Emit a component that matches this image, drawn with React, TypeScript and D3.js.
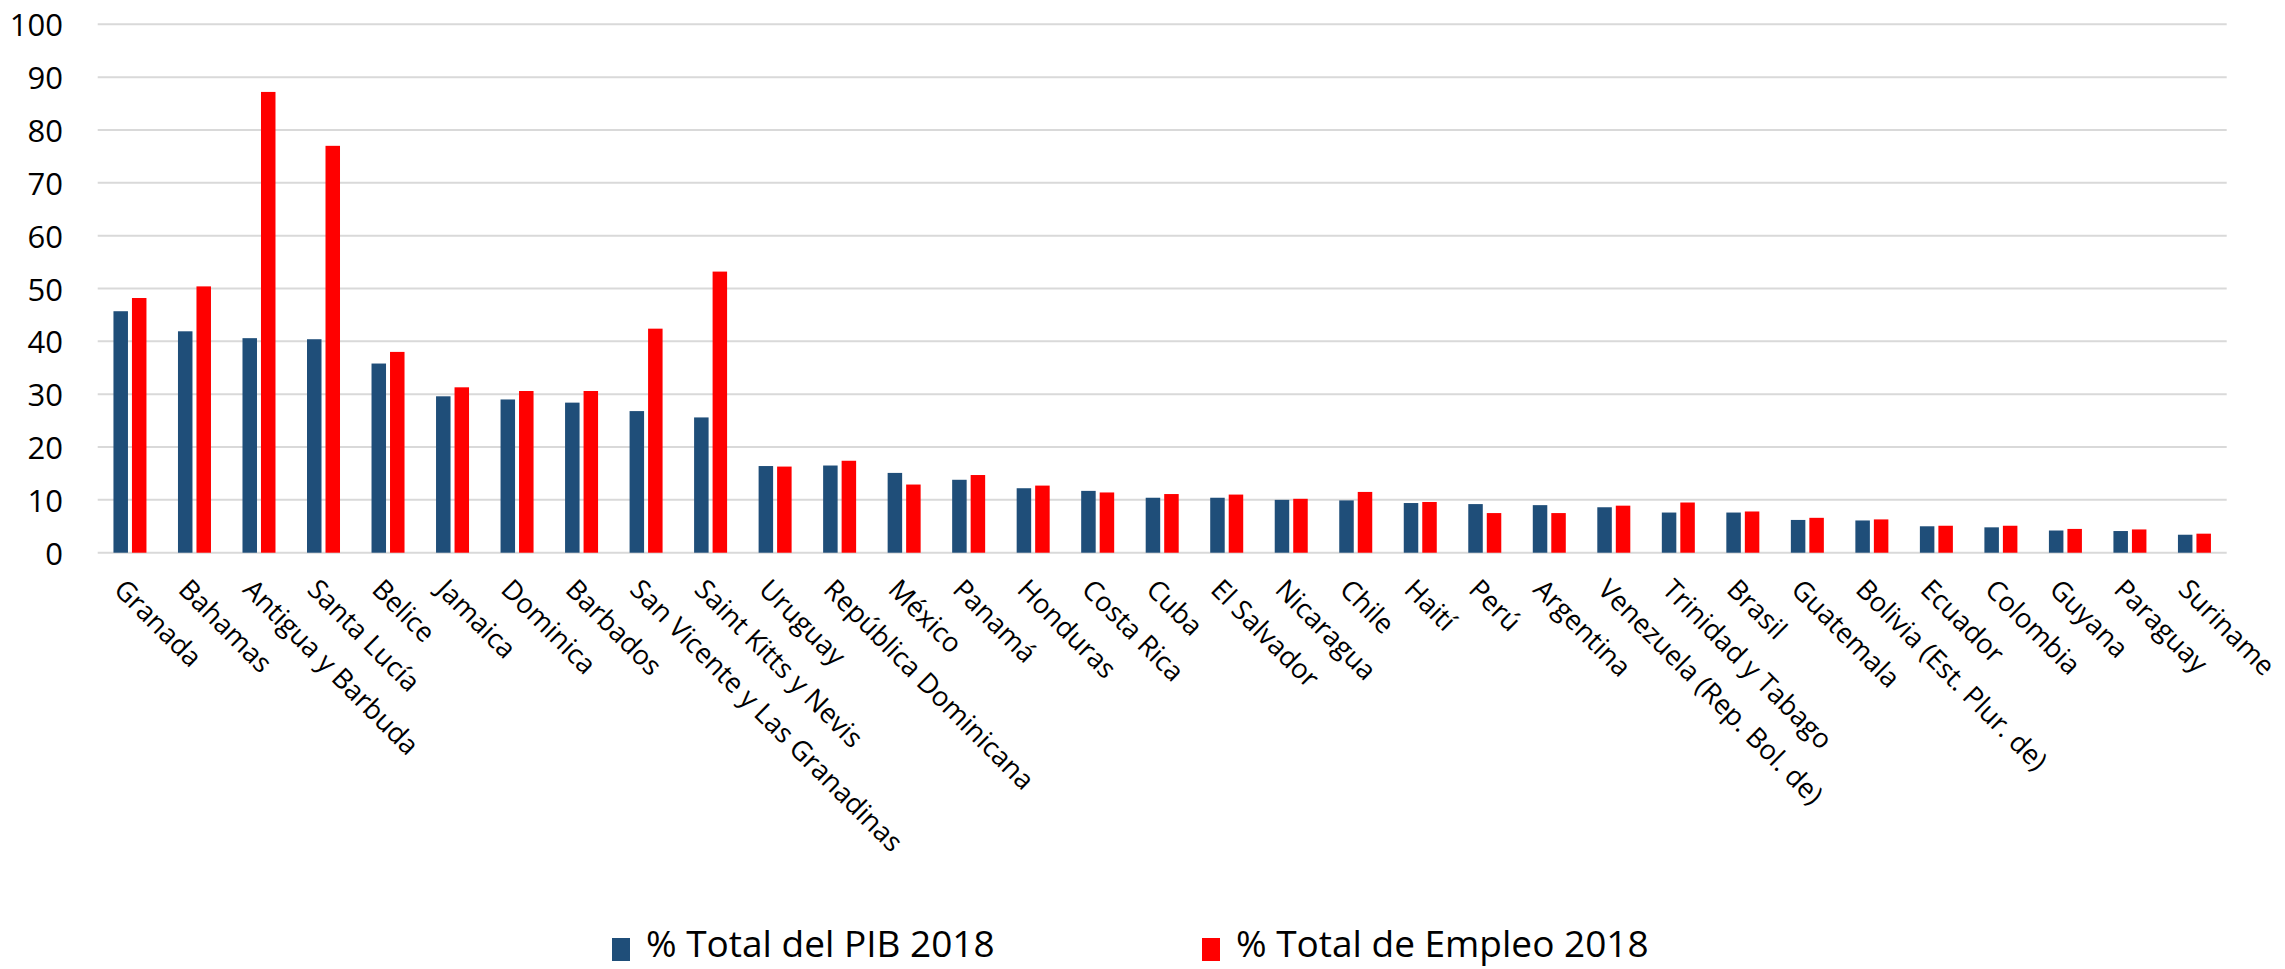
import React from "react";
import * as d3 from "d3";

const categories = [
  "Granada", "Bahamas", "Antigua y Barbuda", "Santa Lucía", "Belice", "Jamaica",
  "Dominica", "Barbados", "San Vicente y Las Granadinas", "Saint Kitts y Nevis",
  "Uruguay", "República Dominicana", "México", "Panamá", "Honduras", "Costa Rica",
  "Cuba", "El Salvador", "Nicaragua", "Chile", "Haití", "Perú", "Argentina",
  "Venezuela (Rep. Bol. de)", "Trinidad y Tabago", "Brasil", "Guatemala",
  "Bolivia (Est. Plur. de)", "Ecuador", "Colombia", "Guyana", "Paraguay", "Suriname",
];

const pib2018 = [
  45.7, 41.9, 40.6, 40.4, 35.8, 29.6, 29.0, 28.4, 26.8, 25.6,
  16.4, 16.5, 15.1, 13.8, 12.2, 11.7, 10.4, 10.4, 10.0, 9.9,
  9.4, 9.2, 9.0, 8.6, 7.6, 7.6, 6.2, 6.1, 5.0, 4.8, 4.2, 4.1, 3.4,
];

const empleo2018 = [
  48.2, 50.4, 87.2, 77.0, 38.0, 31.3, 30.6, 30.6, 42.4, 53.2,
  16.3, 17.4, 12.9, 14.7, 12.7, 11.4, 11.1, 11.0, 10.2, 11.5,
  9.6, 7.5, 7.5, 8.9, 9.5, 7.8, 6.6, 6.3, 5.1, 5.1, 4.5, 4.4, 3.6,
];

const yTicks = [0, 10, 20, 30, 40, 50, 60, 70, 80, 90, 100];

const seriesNames = ["% Total del PIB 2018", "% Total de Empleo 2018"];
const seriesColors = ["#1F4E79", "#FF0000"];

const W = 2285;
const H = 969;
const FONT = "'Open Sans', 'Noto Sans', sans-serif";

export default function App() {
  const x = d3.scaleBand<string>().domain(categories).range([97.7, 2226.7]).padding(0);
  const y = d3.scaleLinear().domain([0, 100]).range([552.7, 24.3]);
  const bw = 14.5;
  const gap = 4;

  return (
    <svg
      width={W}
      height={H}
      style={{ position: "absolute", left: 0, top: 0, background: "#fff" }}
      fontFamily={FONT}
    >
      <rect width={W} height={H} fill="#fff" />
      {yTicks.map((t) => (
        <g key={t}>
          <line x1={97.7} x2={2226.7} y1={y(t)} y2={y(t)} stroke="#d9d9d9" strokeWidth={2} />
          <text x={63} y={y(t)} textAnchor="end" dominantBaseline="central" fontSize={31} fill="#000">
            {t}
          </text>
        </g>
      ))}
      {categories.map((c, i) => {
        const cx = (x(c) as number) + x.bandwidth() / 2;
        return (
          <g key={c}>
            <rect x={cx - gap / 2 - bw} y={y(pib2018[i])} width={bw} height={y(0) - y(pib2018[i])} fill={seriesColors[0]} />
            <rect x={cx + gap / 2} y={y(empleo2018[i])} width={bw} height={y(0) - y(empleo2018[i])} fill={seriesColors[1]} />
            <text
              transform={`translate(${cx - 17.5},${591}) rotate(45)`}
              fontSize={27.3}
              fill="#000"
            >
              {c}
            </text>
          </g>
        );
      })}
      <g>
        <rect x={612} y={938} width={18} height={23} fill={seriesColors[0]} />
        <text x={646} y={957} fontSize={37} fill="#000">{seriesNames[0]}</text>
        <rect x={1202} y={938} width={18} height={23} fill={seriesColors[1]} />
        <text x={1236} y={957} fontSize={37} fill="#000">{seriesNames[1]}</text>
      </g>
    </svg>
  );
}
